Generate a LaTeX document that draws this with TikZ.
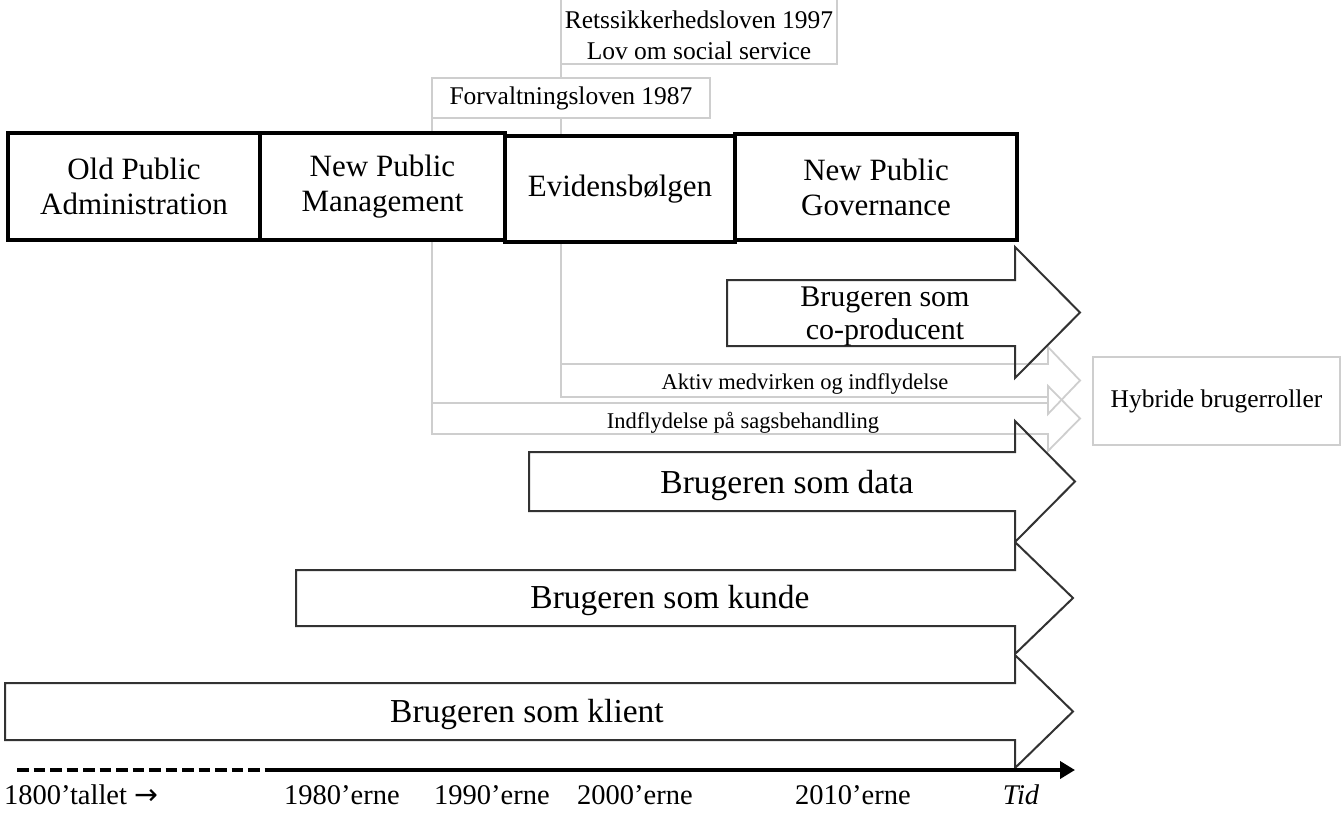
\documentclass[tikz,border=0pt]{standalone}
\usepackage{fontspec}
\setmainfont{Liberation Serif}
\newfontfamily\arrowfont{DejaVu Sans}
\usetikzlibrary{arrows.meta}
\definecolor{lawgray}{RGB}{206,206,206}
\definecolor{rolegray}{RGB}{50,50,50}

\begin{document}
\begin{tikzpicture}[x=1pt,y=-1pt,line join=miter,
  era/.style={draw=black,line width=3.6pt,fill=white,inner sep=0pt,outer sep=0pt,align=center,font=\fontsize{31}{35}\selectfont},
  lawbox/.style={draw=lawgray,line width=1.8pt,fill=white,inner sep=0pt,outer sep=0pt,align=center,font=\fontsize{25.5}{31}\selectfont},
  lawline/.style={draw=lawgray,line width=1.8pt},
  rolearrow/.style={draw=rolegray,line width=2pt},
  rolelabel/.style={font=\fontsize{33.5}{36}\selectfont},
  smalllabel/.style={font=\fontsize{22.5}{26}\selectfont},
  yearlabel/.style={anchor=base,font=\fontsize{28.5}{32}\selectfont},
]
\useasboundingbox (0,0) rectangle (1341,812);
%%
\node[lawbox,draw=none,fill=none,minimum width=276pt,minimum height=57pt] (retslov) at (699,35.5) {Retssikkerhedsloven 1997\\Lov om social service};
\draw[lawline] ([yshift=20pt]retslov.north west) -- (retslov.south west) -- (retslov.south east) -- ([yshift=20pt]retslov.north east);
\coordinate (aktiv-nw) at (561,364);
\coordinate (indfl-nw) at (432,403);
\draw[lawline] (retslov.south west) -- (aktiv-nw);
\node[lawbox,minimum width=278pt,minimum height=40pt] (forvlov) at (571,98) {Forvaltningsloven 1987};
\draw[lawline] (forvlov.south west) -- (indfl-nw);
%
\draw[lawline] (aktiv-nw) -- (1048,364) -- (1048,347) -- (1080,380.5) -- (1048,414) -- (1048,397) -- (561,397) -- cycle;
\node[smalllabel] (aktiv) at (805,384) {Aktiv medvirken og indflydelse};
\draw[lawline] (indfl-nw) -- (1048,403) -- (1048,386) -- (1080,418.5) -- (1048,451) -- (1048,434) -- (432,434) -- cycle;
\node[smalllabel] (indfl) at (743,423) {Indflydelse på sagsbehandling};
\node[lawbox,minimum width=247pt,minimum height=88pt] (hybrid) at (1216.5,401) {Hybride brugerroller};
%
\node[era,minimum width=252pt,minimum height=107pt] (opa) at (134,186.5) {Old Public\\Administration};
\node[era,minimum width=245pt,minimum height=107pt] (npm) at (382.5,186.5) {New Public\\Management};
\node[era,minimum width=282pt,minimum height=106pt] (npg) at (876,187) {New Public\\Governance};
\node[era,minimum width=230pt,minimum height=106pt] (evid) at (620,189) {Evidensbølgen};
%
\draw[rolearrow] (727,280) -- (1015,280) -- (1015,247) -- (1080,312.5) -- (1015,378) -- (1015,346) -- (727,346) -- cycle;
\node[rolelabel,align=center,font=\fontsize{30}{33}\selectfont] (coprod) at (885,316.5) {Brugeren som\\co-producent};
\draw[rolearrow] (529,452) -- (1015,452) -- (1015,421) -- (1075,481.5) -- (1015,542) -- (1015,511) -- (529,511) -- cycle;
\node[rolelabel] (data) at (787,485) {Brugeren som data};
\draw[rolearrow] (296,570) -- (1015,570) -- (1015,542) -- (1073,598) -- (1015,654) -- (1015,626) -- (296,626) -- cycle;
\node[rolelabel] (kunde) at (670,600) {Brugeren som kunde};
\draw[rolearrow] (5,683) -- (1015,683) -- (1015,655) -- (1073,711.5) -- (1015,768) -- (1015,740) -- (5,740) -- cycle;
\node[rolelabel] (klient) at (527,714) {Brugeren som klient};
%
\coordinate (t0) at (17,770);
\coordinate (t1980) at (265,770);
\coordinate (tend) at (1075,770);
\draw[line width=4pt,dash pattern=on 11.5pt off 5pt] (t0) -- (t1980);
\draw[line width=4pt,-{Triangle[length=15pt,width=17pt]}] (t1980) -- (tend);
\node[yearlabel] (y1800) at (81,804) {1800’tallet {\arrowfont →}};
\node[yearlabel] (y1980) at (342,804) {1980’erne};
\node[yearlabel] (y1990) at (492,804) {1990’erne};
\node[yearlabel] (y2000) at (635,804) {2000’erne};
\node[yearlabel] (y2010) at (853,804) {2010’erne};
\node[yearlabel] (tid) at (1021,804) {\itshape Tid};
%
\end{tikzpicture}
\end{document}
